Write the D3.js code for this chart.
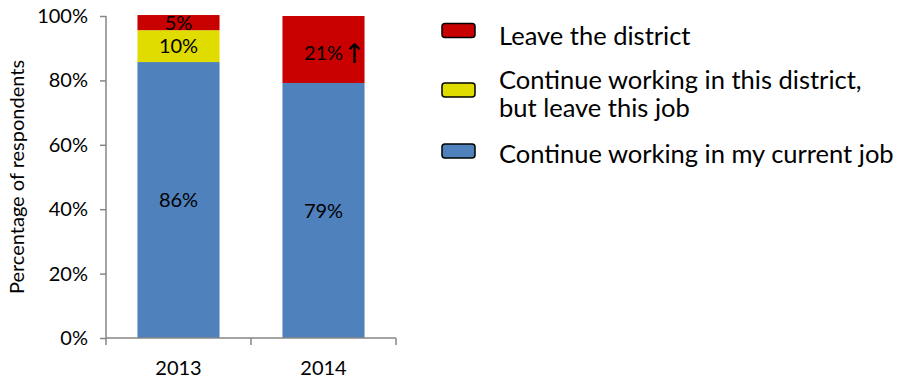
<!DOCTYPE html>
<html>
<head>
<meta charset="utf-8">
<script src="https://cdn.jsdelivr.net/npm/d3@7"></script>
<style>
  body { margin: 0; background: #fff; }
  svg text { font-family: Lato, "Open Sans", sans-serif; fill: #000; }
</style>
</head>
<body>
<svg id="chart" width="905" height="379"></svg>
<script>
// data
const years = ['2013', '2014'];
const currentJob = [85.7, 79.2];
const otherJob = [9.9, 0];
const leaveDistrict = [4.7, 20.8];
const changeMarks = ['', '↑'];
const yTicks = [0, 20, 40, 60, 80, 100];
const seriesNames = [
  'Continue working in my current job',
  'Continue working in this district, but leave this job',
  'Leave the district'
];
const legendLines = [
  ['Leave the district'],
  ['Continue working in this district,', 'but leave this job'],
  ['Continue working in my current job']
];
const colors = ['#4F81BD', '#E0DC00', '#C80000'];

const svg = d3.select('#chart');
const axisColor = '#868686';

const x = d3.scaleBand()
  .domain(years)
  .range([106, 396])
  .paddingInner(0.434)
  .paddingOuter(0.217);

const y = d3.scaleLinear().domain([0, 100]).range([338, 16]);

// stack the three series
const rows = years.map((yr, i) => ({
  year: yr,
  [seriesNames[0]]: currentJob[i],
  [seriesNames[1]]: otherJob[i],
  [seriesNames[2]]: leaveDistrict[i]
}));
const stacked = d3.stack().keys(seriesNames)(rows);

const layers = svg.selectAll('.layer')
  .data(stacked)
  .enter()
  .append('g')
  .attr('fill', (d, i) => colors[i]);

layers.selectAll('rect')
  .data(d => d)
  .enter()
  .append('rect')
  .attr('x', d => x(d.data.year))
  .attr('width', x.bandwidth())
  .attr('y', d => y(d[1]))
  .attr('height', d => y(d[0]) - y(d[1]));

// y axis
const yAxis = svg.append('g')
  .attr('transform', 'translate(106,0)')
  .call(d3.axisLeft(y).tickValues(yTicks).tickFormat(d => d + '%').tickSize(6).tickPadding(12));
yAxis.selectAll('line, path').attr('stroke', axisColor).attr('stroke-width', 1.5);
yAxis.select('path').attr('d', 'M0,338V16');
yAxis.selectAll('text').style('font-size', '20px').attr('fill', '#000');

// x axis
const xAxisG = svg.append('g').attr('transform', 'translate(0,338)');
xAxisG.append('line')
  .attr('x1', 106).attr('x2', 396)
  .attr('stroke', axisColor).attr('stroke-width', 1.5);
const xEdges = [106].concat(years.map(yr => x(yr) + x.bandwidth() / 2 + x.step() / 2));
xAxisG.selectAll('.xt')
  .data(xEdges)
  .enter()
  .append('line')
  .attr('x1', d => d).attr('x2', d => d)
  .attr('y1', 0).attr('y2', 7)
  .attr('stroke', axisColor).attr('stroke-width', 1.5);
xAxisG.selectAll('.xl')
  .data(years)
  .enter()
  .append('text')
  .attr('x', d => x(d) + x.bandwidth() / 2)
  .attr('y', 37)
  .attr('text-anchor', 'middle')
  .style('font-size', '20px')
  .text(d => d);

// y axis title
svg.append('text')
  .attr('transform', 'translate(24,177) rotate(-90)')
  .attr('text-anchor', 'middle')
  .style('font-size', '20px')
  .text('Percentage of respondents');

// value labels
stacked.forEach((layer, li) => {
  layer.forEach((d, i) => {
    const v = d[1] - d[0];
    if (v <= 0) return;
    const cx = x(d.data.year) + x.bandwidth() / 2;
    const cy = y((d[0] + d[1]) / 2) + (li === 2 && i === 1 ? 3 : 0);
    const t = svg.append('text')
      .attr('x', cx)
      .attr('y', cy)
      .attr('dy', '0.36em')
      .attr('text-anchor', 'middle')
      .style('font-size', '20px')
      .text(Math.round(v) + '%');
    if (li === 2 && changeMarks[i]) {
      const w = t.node().getComputedTextLength();
      svg.append('text')
        .attr('x', cx + w / 2)
        .attr('y', cy)
        .attr('dy', '0.38em')
        .style('font-size', '27px')
        .style('font-family', '"DejaVu Sans", sans-serif')
        .text(changeMarks[i]);
    }
  });
});

// legend
const legendY = [30.5, 90, 151];
const legendBase = [[14.5], [-1, 26.5], [12]];
const legendColors = [colors[2], colors[1], colors[0]];
const legend = svg.selectAll('.legend')
  .data(legendLines)
  .enter()
  .append('g')
  .attr('transform', (d, i) => `translate(442, ${legendY[i]})`);

legend.append('rect')
  .attr('x', 0).attr('y', -7)
  .attr('width', 33).attr('height', 14)
  .attr('rx', 3)
  .attr('fill', (d, i) => legendColors[i])
  .attr('stroke', '#000')
  .attr('stroke-width', 1.5);

legend.append('text')
  .attr('x', 57)
  .style('font-size', '25.5px')
  .each(function (lines, i) {
    const t = d3.select(this);
    lines.forEach((ln, k) => {
      t.append('tspan')
        .attr('x', 57)
        .attr('y', legendBase[i][k])
        .text(ln);
    });
  });
</script>
</body>
</html>
